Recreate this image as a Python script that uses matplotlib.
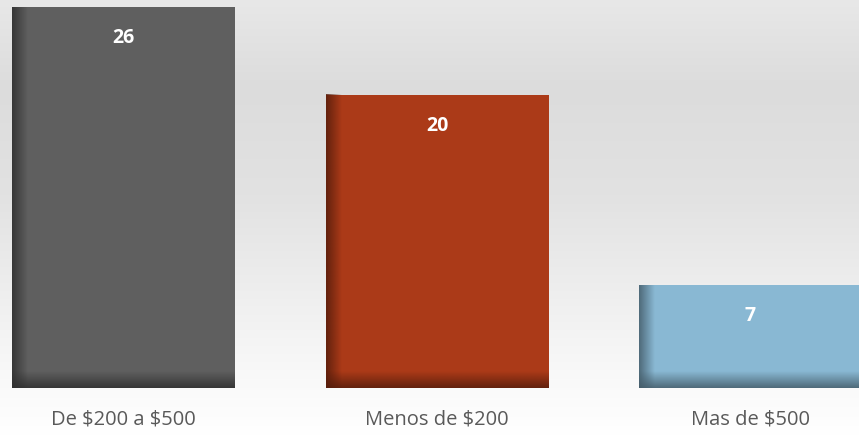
import numpy as np
import matplotlib.pyplot as plt
from matplotlib.colors import LinearSegmentedColormap, to_rgb

plt.rcParams['text.parse_math'] = False

categories = ['De $200 a $500', 'Menos de $200', 'Mas de $500']
values = [26, 20, 7]
colors = ['#5f5f5f', '#ab3a18', '#89b8d3']

W, H = 859, 436
fig = plt.figure(figsize=(W / 100, H / 100), dpi=100)

# background gradient
bg = fig.add_axes([0, 0, 1, 1])
bg_cmap = LinearSegmentedColormap.from_list(
    'bg', [(0, '#ffffff'), (0.15, '#f8f8f8'), (0.55, '#e2e2e2'), (0.8, '#dcdcdc'), (1, '#e8e8e8')])
bg.imshow(np.linspace(0, 1, 256).reshape(-1, 1), cmap=bg_cmap, aspect='auto',
          origin='lower', extent=[0, 1, 0, 1])
bg.axis('off')

ax = fig.add_axes([0, 48 / H, 1, 388 / H])
ax.patch.set_alpha(0)
x = np.arange(len(categories))
width = 223 / 313.5
bars = ax.bar(x, values, width=width, color=colors, zorder=2)
ax.set_xlim(-123.5 / 313.5, (W - 123.5) / 313.5)
ax.set_ylim(0, 388 / 14.65)

# bevel shading on left and bottom edges
for b, c in zip(bars, colors):
    x0, y0, w, h = b.get_x(), b.get_y(), b.get_width(), b.get_height()
    r, g, bl = to_rgb(c)
    dark = (r * 0.5, g * 0.5, bl * 0.5)
    edge = LinearSegmentedColormap.from_list('e', [(*dark, 0.85), (*dark, 0.0)])
    lw = 16 / 313.5
    ax.imshow(np.linspace(0, 1, 64).reshape(1, -1), cmap=edge, aspect='auto',
              extent=[x0, x0 + lw, y0, y0 + h], zorder=3)
    bh = 16 / 14.65
    ax.imshow(np.linspace(0, 1, 64).reshape(-1, 1), cmap=edge, aspect='auto',
              origin='lower', extent=[x0, x0 + w, y0, y0 + bh], zorder=3)
    ax.text(b.get_x() + w / 2, h - 31 / 14.65, str(int(h)), ha='center', va='center',
            color='white', fontsize=14, fontweight='bold', family='Open Sans', zorder=4)

ax.set_xticks([])
ax.set_yticks([])
for s in ax.spines.values():
    s.set_visible(False)

for xi, lab in zip(x, categories):
    ax.text(xi, -31 / 14.65, lab, ha='center', va='center', color='#595959',
            fontsize=14.5, family='Open Sans', clip_on=False)

fig.savefig('out.png', dpi=100)
